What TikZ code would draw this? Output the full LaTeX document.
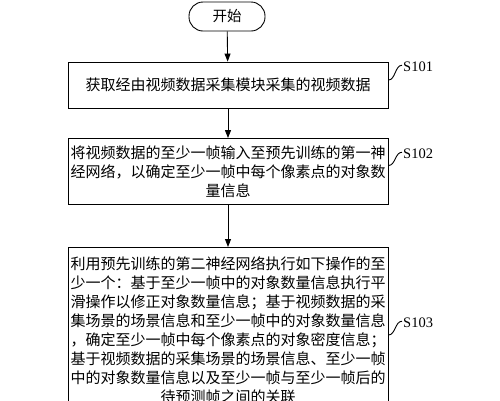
\documentclass[tikz,border=0pt]{standalone}
\usepackage{fontspec}
\setmainfont{Liberation Serif}
\newfontfamily\cjk{Noto Sans CJK SC}
\usetikzlibrary{arrows.meta}
\begin{document}
\begin{tikzpicture}[x=1pt,y=-1pt,
  stepbox/.style={draw, line width=0.9pt, minimum width=320pt, align=center,
    font=\cjk\fontsize{15}{19}\selectfont, inner xsep=0pt},
  startbox/.style={draw, line width=0.9pt, rounded corners=14pt, minimum width=76pt,
    minimum height=29pt, font=\cjk\fontsize{14.5}{17}\selectfont},
  steplabel/.style={font=\fontsize{14.5}{17}\selectfont, anchor=base west, inner sep=0pt},
  flow/.style={-{Triangle[length=8pt,width=6pt]}, line width=0.9pt},
  leader/.style={line width=0.9pt}]
\useasboundingbox (0,0) rectangle (500,400);
\clip (0,0) rectangle (500,400);
\fill[white] (0,0) rectangle (500,400);

\node[startbox] (start) at (227,16.5) {开始};
\node[stepbox, minimum height=46pt] (s1) at (228,85) {获取经由视频数据采集模块采集的视频数据};
\node[stepbox, minimum height=66pt] (s2) at (228,171.5)
  {将视频数据的至少一帧输入至预先训练的第一神\\经网络，以确定至少一帧中每个像素点的对象数\\量信息};
\node[stepbox, anchor=north, inner ysep=9pt] (s3) at (228,247)
  {利用预先训练的第二神经网络执行如下操作的至\\少一个：基于至少一帧中的对象数量信息执行平\\滑操作以修正对象数量信息；基于视频数据的采\\集场景的场景信息和至少一帧中的对象数量信息\\，确定至少一帧中每个像素点的对象密度信息；\\基于视频数据的采集场景的场景信息、至少一帧\\中的对象数量信息以及至少一帧与至少一帧后的\\待预测帧之间的关联};

\node[steplabel] (l1) at (403,71) {S101};
\node[steplabel] (l2) at (403,158) {S102};
\node[steplabel] (l3) at (403,327) {S103};

\draw[flow] (start) -- (s1);
\draw[flow] (s1) -- (s2);
\draw[flow] (s2) -- (s3);

\draw[leader] ([yshift=5pt]s1.east) .. controls +(7,0) and +(-7,0) .. ([xshift=-1pt,yshift=1pt]l1.west);
\draw[leader] ([yshift=6pt]s2.east) .. controls +(7,0) and +(-7,0) .. ([xshift=-1pt,yshift=1pt]l2.west);
\draw[leader] ([yshift=-88pt]s3.north east) .. controls +(7,0) and +(-7,0) .. ([xshift=-1pt,yshift=1pt]l3.west);
\end{tikzpicture}
\end{document}
